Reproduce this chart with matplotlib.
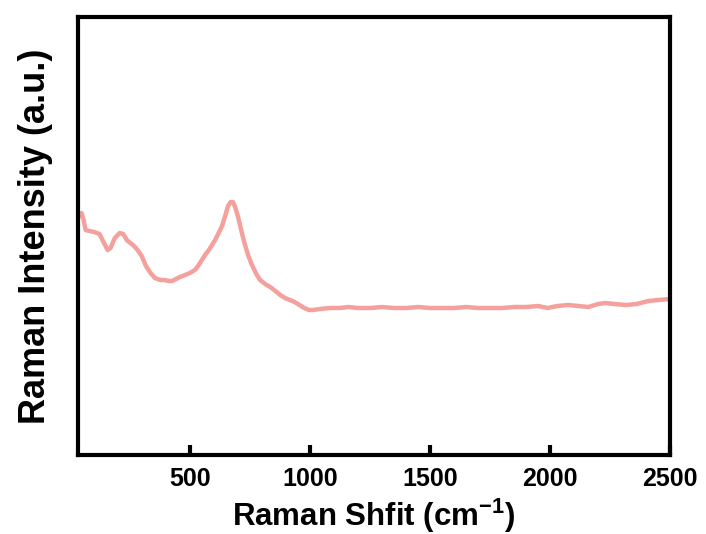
import matplotlib
matplotlib.use("Agg")
import matplotlib.pyplot as plt

plt.rcParams['font.family'] = ['Liberation Sans', 'DejaVu Sans']
plt.rcParams['font.weight'] = 'bold'
plt.rcParams['mathtext.fontset'] = 'custom'
plt.rcParams['mathtext.bf'] = 'Liberation Sans:bold'
plt.rcParams['mathtext.rm'] = 'Liberation Sans:bold'

# Raman shift (cm-1) and intensity (a.u.)
shift = [30, 46, 55, 63, 80, 100, 121, 140, 155, 167, 185, 205, 220, 235, 250,
         265, 280, 297, 315, 331, 352, 375, 393, 410, 423, 440, 456, 478, 498,
         512, 523, 540, 561, 580, 603, 620, 632, 645, 657, 668, 678, 688, 698,
         707, 718, 728, 742, 757, 775, 791, 812, 833, 855, 875, 895, 915, 935,
         955, 975, 995, 1010, 1040, 1080, 1120, 1160, 1200, 1250, 1300, 1350,
         1400, 1450, 1500, 1550, 1600, 1650, 1700, 1750, 1800, 1850, 1900,
         1950, 1990, 2030, 2075, 2120, 2160, 2200, 2230, 2270, 2315, 2360,
         2410, 2450, 2500]
intensity = [237, 242, 235, 225, 224, 223, 221, 212, 205, 207, 217, 222, 221,
             215, 212, 209, 205, 199, 189, 183, 177, 175, 175, 174, 174, 176,
             178, 180, 182, 184, 186, 192, 200, 206, 215, 223, 229, 239, 249,
             253, 253, 247, 239, 230, 219, 210, 199, 190, 181, 175, 171, 168,
             164, 160, 157, 155, 153, 150, 147, 145, 145, 146, 147, 147, 148,
             147, 147, 148, 147, 147, 148, 147, 147, 147, 148, 147, 147, 147,
             148, 148, 149, 147, 149, 150, 149, 148, 151, 152, 151, 150, 151,
             154, 155, 156]
xticks = [500, 1000, 1500, 2000, 2500]

fig = plt.figure(figsize=(7.06, 5.34), dpi=100)
ax = fig.add_axes([0.110, 0.148, 0.839, 0.820])

ax.plot(shift, intensity, color='#F4A09C', linewidth=3.2, solid_joinstyle='round')

ax.set_xlim(30, 2500)
ax.set_ylim(0, 438)
ax.set_xticks(xticks)
ax.set_yticks([])
ax.tick_params(axis='x', direction='in', length=7, width=3, labelsize=18, pad=9)
for lbl in ax.get_xticklabels():
    lbl.set_fontweight('bold')
for s in ax.spines.values():
    s.set_linewidth(3)

ax.set_xlabel('Raman Shfit (cm$^{\\mathrm{-1}}$)', fontsize=22.5, fontweight='bold', labelpad=4)
ax.set_ylabel('Raman Intensity (a.u.)', fontsize=26, fontweight='bold', labelpad=18)

fig.savefig('out.png', dpi=100)
